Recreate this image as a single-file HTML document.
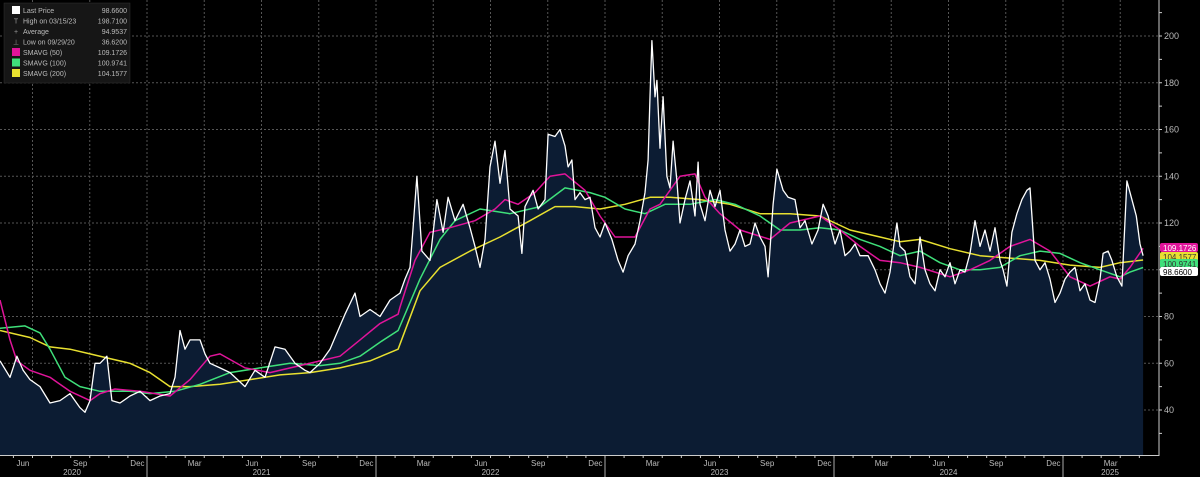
<!DOCTYPE html>
<html><head><meta charset="utf-8"><style>
html,body{margin:0;padding:0;background:#000;}
svg{display:block;font-family:"Liberation Sans",sans-serif;}
</style></head><body>
<svg id="chart" width="1200" height="477" viewBox="0 0 1200 477" xmlns="http://www.w3.org/2000/svg">
<rect x="0" y="0" width="1200" height="477" fill="#000"/>
<g id="grid"></g>
<g id="plot"></g>
<g id="axes"></g>
<g id="legend">
<rect x="4" y="3" width="126" height="80" fill="#161616" stroke="#333" stroke-width="0.5"/>
</g>
</svg>
<script>
// days since 2020-05-18
const priceDays=[0,16,27,37,48,64,80,96,112,128,136,144,152,160,171,179,192,208,224,240,256,272,280,288,296,304,320,328,336,352,368,392,408,424,440,456,472,488,496,512,528,536,552,568,576,592,608,624,640,648,656,661,667,675,688,699,709,717,728,741,752,760,768,776,784,792,800,808,816,829,835,840,853,861,872,877,888,896,904,909,915,920,928,936,944,952,960,968,979,989,997,1005,1016,1024,1032,1037,1040,1043,1048,1051,1056,1061,1067,1072,1077,1083,1088,1096,1104,1112,1117,1120,1128,1136,1144,1152,1160,1168,1176,1184,1192,1200,1208,1216,1224,1229,1237,1243,1253,1261,1272,1280,1288,1299,1309,1317,1325,1336,1344,1352,1360,1368,1376,1389,1400,1408,1416,1424,1435,1440,1448,1456,1464,1472,1480,1488,1496,1504,1512,1520,1528,1536,1544,1552,1560,1568,1576,1584,1592,1600,1605,1611,1619,1627,1635,1643,1648,1656,1664,1672,1680,1688,1696,1704,1712,1720,1728,1736,1744,1752,1760,1765,1773,1779,1787,1795,1803,1811,1818,1824,1829];
const priceVals=[61,54,63,57,53,50,43,44,47,41,39,44,60,60,63,44,43,46,48,44,46,47,54,74,66,70,70,64,60,58,56,50,57,54,67,66,60,57,56,60,66,71,81,90,80,83,80,87,90,96,101,118,140,108,104,130,116,131,121,128,118,110,101,113,144,155,137,151,126,123,107,127,134,126,130,158,157,160,153,144,147,130,133,130,131,118,114,120,113,104,99,106,111,121,133,147,174,198,174,181,152,174,140,135,155,138,120,130,138,123,146,128,121,134,127,134,117,108,111,117,110,111,120,114,110,97,128,143,134,131,130,118,121,111,117,128,123,111,117,106,108,111,106,106,100,94,90,99,120,110,108,97,94,114,100,94,91,100,97,103,94,100,99,107,121,110,117,108,118,104,100,93,116,124,130,134,135,104,100,103,96,86,90,96,99,101,91,94,87,86,96,107,108,104,97,93,138,130,123,111,106,98.66];
const sma50Days=[0,16,27,48,80,112,144,160,184,224,272,304,336,352,392,432,480,512,544,576,608,637,640,664,688,720,760,792,808,829,856,880,904,936,960,984,1008,1016,1040,1056,1088,1112,1128,1152,1184,1232,1264,1312,1344,1376,1408,1440,1472,1520,1552,1584,1616,1648,1680,1712,1744,1776,1792,1808,1829];
const sma50Vals=[87,70,61,57,54,48,44,47,49,48,46,53,63,64,58,56,59,61,63,70,77,81,84,104,116,118,121,126,130,128,133,140,141,134,123,114,114,114,126,128,140,141,131,124,117,113,120,123,117,110,104,103,101,97,100,104,110,113,108,97,93,97,96,101,109.17];
const sma100Days=[0,40,64,80,104,128,160,208,240,280,320,368,416,464,512,544,576,608,637,672,704,728,768,816,864,904,944,968,1000,1032,1064,1104,1144,1176,1216,1248,1280,1312,1344,1376,1408,1440,1472,1504,1536,1568,1600,1632,1664,1696,1728,1760,1792,1808,1829];
const sma100Vals=[75,76,73,66,54,50,48,48,47,48,51,56,58,60,59,60,63,69,74,96,113,121,126,124,127,135,133,131,126,124,128,128,130,128,123,117,117,118,117,113,110,106,108,103,100,100,101,106,108,107,103,100,97,99,100.97];
const sma200Days=[0,48,80,112,144,176,208,240,272,304,352,400,448,496,544,592,637,672,704,752,800,848,888,920,960,1000,1040,1072,1120,1168,1216,1264,1312,1360,1408,1440,1472,1520,1568,1616,1664,1712,1760,1792,1829];
const sma200Vals=[74,71,67,66,64,62,60,56,50,50,51,53,55,56,58,61,66,91,101,108,114,121,127,127,126,128,131,131,130,128,124,124,123,117,114,112,113,109,106,105,104,102,101,103,104.16];
const yTicks=[40,60,80,100,120,140,160,180,200];
const monthLabels=["Jun","Sep","Dec","Mar","Jun","Sep","Dec","Mar","Jun","Sep","Dec","Mar","Jun","Sep","Dec","Mar","Jun","Sep","Dec","Mar"];
const yearLabels=["2020","2021","2022","2023","2024","2025"];
const legendNames=["Last Price","High on 03/15/23","Average","Low on 09/29/20","SMAVG (50)","SMAVG (100)","SMAVG (200)"];
const legendValues=["98.6600","198.7100","94.9537","36.6200","109.1726","100.9741","104.1577"];
const tagValues=["109.1726","104.1577","100.9741","98.6600"];

const NS="http://www.w3.org/2000/svg";
const PX_PER_DAY=1/1.6;
const JAN2021=147; // x of 2021-01-01
const X0=0;
function xScale(d){return X0+d*PX_PER_DAY;}
function yScale(v){return 410-(v-40)*(374/160);}
function monthX(m){return JAN2021+m*229/12;}
const PLOT_BOTTOM=455, PLOT_RIGHT=1159;
function mk(tag,attrs,parent){const e=document.createElementNS(NS,tag);for(const k in attrs)e.setAttribute(k,attrs[k]);parent.appendChild(e);return e;}
const grid=document.getElementById('grid'),plot=document.getElementById('plot'),axes=document.getElementById('axes'),legend=document.getElementById('legend');

yTicks.forEach(v=>{const l=mk('line',{x1:0,x2:PLOT_RIGHT,y1:yScale(v),y2:yScale(v),stroke:'#555','stroke-width':1,'stroke-dasharray':'2,2'},grid);

});
for(let q=-2;q<=17;q++){const x=monthX(q*3);if(x<0||x>PLOT_RIGHT)continue;
const l=mk('line',{x1:x,x2:x,y1:0,y2:PLOT_BOTTOM,stroke:'#555','stroke-width':1,'stroke-dasharray':'2,2'},grid);

}

let d='';priceDays.forEach((t,i)=>{d+=(i?'L':'M')+xScale(t).toFixed(1)+','+yScale(priceVals[i]).toFixed(1);});
const lastX=xScale(priceDays[priceDays.length-1]),firstX=xScale(priceDays[0]);
const area=mk('path',{d:d+'L'+lastX+','+PLOT_BOTTOM+'L'+firstX+','+PLOT_BOTTOM+'Z',fill:'#0c1c33'},plot);


function series(days,vals,color,name,w){let p='';days.forEach((t,i)=>{p+=(i?'L':'M')+xScale(t).toFixed(1)+','+yScale(vals[i]).toFixed(1);});
const e=mk('path',{d:p,fill:'none',stroke:color,'stroke-width':w,'stroke-linejoin':'round'},plot);

}
series(sma200Days,sma200Vals,'#e8e030','sma-200-line',1.5);
series(sma100Days,sma100Vals,'#3fe07a','sma-100-line',1.5);
series(sma50Days,sma50Vals,'#e0149a','sma-50-line',1.5);
series(priceDays,priceVals,'#ffffff','last-price-line',1.3);

const ya=mk('line',{x1:PLOT_RIGHT,x2:PLOT_RIGHT,y1:0,y2:PLOT_BOTTOM+1,stroke:'#ccc','stroke-width':1},axes);


const xa=mk('line',{x1:0,x2:PLOT_RIGHT,y1:PLOT_BOTTOM+0.5,y2:PLOT_BOTTOM+0.5,stroke:'#ccc','stroke-width':1},axes);


for(let v=30;v<=210;v+=10){const yy=yScale(v);const t=mk('line',{x1:PLOT_RIGHT,x2:PLOT_RIGHT+3,y1:yy,y2:yy,stroke:'#ccc'},axes);

}
yTicks.forEach(v=>{const t=mk('text',{x:PLOT_RIGHT+5,y:yScale(v)+3,fill:'#bbb','font-size':9},axes);t.textContent=v;

});
for(let m=-7;m<=52;m++){const x=monthX(m);if(x<0||x>PLOT_RIGHT)continue;const t=mk('line',{x1:x,x2:x,y1:PLOT_BOTTOM,y2:PLOT_BOTTOM+3,stroke:'#ccc'},axes);

}
monthLabels.forEach((s,i)=>{const m=-7+i*3;const t=mk('text',{x:monthX(m)+9.5,y:466,fill:'#bbb','font-size':8,'text-anchor':'middle'},axes);t.textContent=s;

});
yearLabels.forEach((s,i)=>{const cx=i===0?72:(i===5?1110:monthX((i-1)*12+6));const t=mk('text',{x:cx,y:475,fill:'#bbb','font-size':8,'text-anchor':'middle'},axes);t.textContent=s;


if(i>0){const sx=monthX((i-1)*12);const l=mk('line',{x1:sx,x2:sx,y1:PLOT_BOTTOM+3,y2:477,stroke:'#aaa'},axes);

}});

const tagColors=['#e0149a','#e8e030','#3fe07a','#ffffff'];
const tagText=['#fff','#333','#333','#000'];
const tagY=[248,257,264,272];
tagValues.forEach((s,i)=>{const r=mk('rect',{x:PLOT_RIGHT+1,y:tagY[i]-5,width:38,height:9,rx:2,fill:tagColors[i]},axes);


const t=mk('text',{x:PLOT_RIGHT+4,y:tagY[i]+3,fill:tagText[i],'font-size':8},axes);t.textContent=s;

});

const swatch=['#ffffff',null,null,null,'#e0149a','#3fe07a','#e8e030'];
const glyph=[null,'T','+','\u22a5',null,null,null];
legendNames.forEach((s,i)=>{const y=13+i*10.5;
if(swatch[i]){const r=mk('rect',{x:12,y:y-7,width:8,height:8,fill:swatch[i]},legend);

}
else{const g=mk('text',{x:16,y:y,fill:'#999','font-size':7,'text-anchor':'middle'},legend);g.textContent=glyph[i];

}
const t=mk('text',{x:23,y:y,fill:'#bbb','font-size':7},legend);t.textContent=s;


const v=mk('text',{x:127,y:y,fill:'#bbb','font-size':7,'text-anchor':'end'},legend);v.textContent=legendValues[i];

});
</script>
</body></html>
